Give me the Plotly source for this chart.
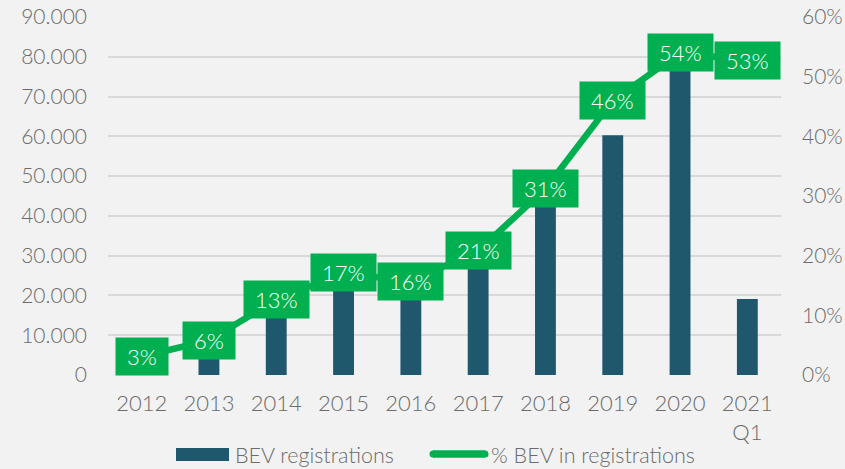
import plotly.graph_objects as go

categories = ["2012", "2013", "2014", "2015", "2016", "2017", "2018", "2019", "2020", "2021<br>Q1"]
bev_registrations = [4200, 7900, 18100, 25800, 24200, 33000, 46100, 60300, 76800, 19100]
bev_share = [0.031, 0.058, 0.126, 0.171, 0.157, 0.208, 0.312, 0.46, 0.54, 0.527]
share_labels = ["3%", "6%", "13%", "17%", "16%", "21%", "31%", "46%", "54%", "53%"]
series_names = ["BEV registrations", "% BEV in registrations"]

BAR = "#1f586d"
GREEN = "#00b050"
GRID = "#d9d9d9"
TXT = "#6b6b6b"
FONT = "Lato"
W, H = 845, 469
ML, MR, MT, MB = 108, 64, 17, 94
PW, PH = W - ML - MR, H - MT - MB


def px(x):  # pixel -> paper x
    return (x - ML) / PW


def py(y):  # pixel -> paper y
    return (H - MB - y) / PH


fig = go.Figure()
fig.add_trace(go.Bar(
    x=categories, y=bev_registrations, name=series_names[0],
    marker=dict(color=BAR, line=dict(width=0)), width=0.31, yaxis="y",
    showlegend=False,
))
fig.add_trace(go.Scatter(
    x=categories, y=bev_share, name=series_names[1], mode="lines",
    line=dict(color=GREEN, width=6.5), yaxis="y2", showlegend=False,
))

NB = "\u00a0"
# data labels: category-index positions on the category axis
for i, (v, t) in enumerate(zip(bev_share, share_labels)):
    fig.add_annotation(
        x=i, y=v, xref="x", yref="y2", text=NB + t + NB, showarrow=False,
        bgcolor=GREEN, font=dict(color="white", size=22, family=FONT, weight=300),
        borderpad=5, xanchor="center", yanchor="middle",
    )

# manual legend (wide swatches as in the original)
fig.add_shape(type="rect", xref="paper", yref="paper",
              x0=px(176), x1=px(229), y0=py(461), y1=py(448),
              fillcolor=BAR, line=dict(width=0))
fig.add_annotation(x=px(233), y=py(455), xref="paper", yref="paper",
                   text=series_names[0], showarrow=False, xanchor="left", yanchor="middle",
                   font=dict(size=21.5, color=TXT, family=FONT, weight=300))
fig.add_shape(type="line", xref="paper", yref="paper",
              x0=px(433), x1=px(485), y0=py(454), y1=py(454),
              line=dict(color=GREEN, width=7.5))
fig.add_shape(type="circle", xref="paper", yref="paper",
              x0=px(429.5), x1=px(436.5), y0=py(457.5), y1=py(450.5),
              fillcolor=GREEN, line=dict(width=0))
fig.add_shape(type="circle", xref="paper", yref="paper",
              x0=px(481.5), x1=px(488.5), y0=py(457.5), y1=py(450.5),
              fillcolor=GREEN, line=dict(width=0))
fig.add_annotation(x=px(489), y=py(455), xref="paper", yref="paper",
                   text=series_names[1], showarrow=False, xanchor="left", yanchor="middle",
                   font=dict(size=21.5, color=TXT, family=FONT, weight=300))

fig.update_layout(
    template="none",
    width=W, height=H,
    paper_bgcolor="#f2f2f2", plot_bgcolor="#f2f2f2",
    margin=dict(l=ML, r=MR, t=MT, b=MB, pad=0),
    separators=",.",
    font=dict(family=FONT, color=TXT, size=20, weight=300),
    showlegend=False,
    xaxis=dict(
        type="category", range=[-0.5, len(categories) - 0.5], automargin=False,
        showgrid=False, zeroline=False, showline=False, ticks="", ticklabelstandoff=13,
        tickfont=dict(size=22, color=TXT, family=FONT, weight=300),
    ),
    yaxis=dict(
        range=[0, 90000], dtick=10000, tickformat=",d", automargin=False,
        showgrid=True, gridcolor=GRID, gridwidth=1.5, zeroline=False,
        showline=False, ticks="", ticklabelstandoff=20,
        tickfont=dict(size=21, color=TXT, family=FONT, weight=300),
    ),
    yaxis2=dict(
        range=[0, 0.6], dtick=0.1, tickformat=".0%", overlaying="y", side="right",
        automargin=False, showgrid=False, zeroline=False, showline=False, ticks="",
        ticklabelstandoff=20,
        tickfont=dict(size=21, color=TXT, family=FONT, weight=300),
    ),
)

fig.write_html(
    "out.html",
    config={"displayModeBar": False},
    post_script="document.body.style.margin='0';document.body.style.background='#f2f2f2';",
)
